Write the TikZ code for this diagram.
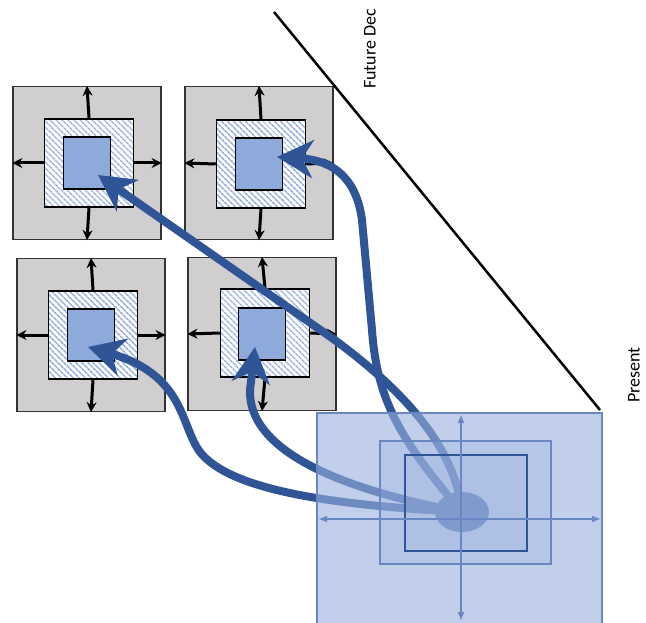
\documentclass[tikz,border=0pt]{standalone}
\usepackage{fontspec}
\setmainfont{Carlito}
\usetikzlibrary{arrows.meta,shapes.geometric,patterns.meta}
\definecolor{boxgray}{RGB}{208,206,206}
\definecolor{hatchblue}{RGB}{150,176,222}
\definecolor{coreblue}{RGB}{142,170,219}
\definecolor{flowblue}{RGB}{47,85,151}
\definecolor{veilblue}{RGB}{152,175,222}
\definecolor{edgeblue}{RGB}{105,135,195}
\begin{document}
\begin{tikzpicture}[x=1pt,y=-1pt,
  outerbox/.style={draw=black!80, line width=1.2pt, fill=boxgray, minimum width=148pt, minimum height=153pt, inner sep=0pt},
  hatchbox/.style={draw=black, line width=1.5pt, preaction={fill=white}, pattern={Lines[angle=-45,distance=4pt,line width=1.6pt]}, pattern color=hatchblue, minimum width=89pt, minimum height=88pt, inner sep=0pt},
  corebox/.style={draw=black, line width=1.5pt, fill=coreblue, minimum width=47pt, minimum height=52pt, inner sep=0pt},
  push/.style={-{Stealth[length=10pt,width=10pt]}, line width=3pt},
  flow/.style={flowblue, line width=8pt, line cap=round, -{Stealth[length=36pt,width=38pt,inset=11pt]}},
  veil/.style={fill=veilblue, draw=edgeblue, line width=1.2pt, inner sep=0pt},
  axis/.style={{Latex[length=9pt,width=7pt]}-{Latex[length=9pt,width=7pt]}, edgeblue, line width=2pt},
  sidetext/.style={rotate=90, inner sep=0pt, font=\fontsize{18}{20}\selectfont}]
\useasboundingbox (0,0) rectangle (646,623);
\clip (0,0) rectangle (646,623);
\fill[white] (0,0) rectangle (646,623);

\node[outerbox] (tlgray) at (87,163) {};
\node[hatchbox] (tlhatch) at (89,163) {};
\node[corebox] (tlcore) at (87,163) {};
\node[outerbox] (trgray) at (259,163) {};
\node[hatchbox] (trhatch) at (261,164) {};
\node[corebox] (trcore) at (259,164) {};
\node[outerbox] (blgray) at (91,335) {};
\node[hatchbox] (blhatch) at (93,335) {};
\node[corebox] (blcore) at (91,335) {};
\node[outerbox] (brgray) at (262,334) {};
\node[hatchbox] (brhatch) at (265,333) {};
\node[corebox] (brcore) at (262,334) {};

\draw[push] (tlhatch.north) -- (tlgray.north);
\draw[push] (tlhatch.south) -- (tlgray.south);
\draw[push] (tlhatch.west) -- (tlgray.west);
\draw[push] (tlhatch.east) -- (tlgray.east);
\draw[push] (trhatch.north) -- (trgray.north);
\draw[push] (trhatch.south) -- (trgray.south);
\draw[push] (trhatch.west) -- (trgray.west);
\draw[push] (trhatch.east) -- (trgray.east);
\draw[push] (blhatch.north) -- (blgray.north);
\draw[push] (blhatch.south) -- (blgray.south);
\draw[push] (blhatch.west) -- (blgray.west);
\draw[push] (blhatch.east) -- (blgray.east);
\draw[push] (brhatch.north) -- (brgray.north);
\draw[push] (brhatch.south) -- (brgray.south);
\draw[push] (brhatch.west) -- (brgray.west);
\draw[push] (brhatch.east) -- (brgray.east);

\coordinate (edgetop) at (274,12);
\coordinate (edgeend) at (600,410);
\draw[line width=2.5pt] (edgetop) -- (edgeend);

% paths out of the present
\node[ellipse, fill=flowblue, minimum width=54pt, minimum height=40pt, inner sep=0pt] (blob) at (462,512) {};
\coordinate (tltip) at (98,175);
\coordinate (trtip) at (277,157);
\coordinate (bltip) at (88,347);
\coordinate (brtip) at (255,347);
\draw[flow] (blob.center) .. controls (455,450) and (410,395) .. (332,338) -- (tltip);
\draw[flow] (blob.center) .. controls (400,440) and (377,400) .. (372,330) -- (362,220) .. controls (356,175) and (330,160) .. (trtip);
\draw[flow] (blob.center) .. controls (370,495) and (248,460) .. (250,390) -- (brtip);
\draw[flow] (blob.center) .. controls (330,505) and (230,490) .. (200,452) .. controls (180,425) and (185,375) .. (bltip);

\node[veil, fill opacity=0.6, minimum width=285pt, minimum height=240pt] (nowbox) at (459.5,533) {};
\node[veil, fill opacity=0.25, minimum width=171pt, minimum height=123pt] (nowmid) at (465.5,502.5) {};
\node[veil, fill opacity=0.25, draw=flowblue, minimum width=122pt, minimum height=96pt] (nowcore) at (466,503) {};
\coordinate (axl) at (318,519);
\coordinate (axr) at (601,519);
\coordinate (axt) at (461,414);
\coordinate (axb) at (461,621);
\draw[axis] (axl) -- (axr);
\draw[axis] (axt) -- (axb);

\node[sidetext] (present) at (634,375) {Present};
\node[sidetext] (future) at (370,49) {Future Dec};
\end{tikzpicture}
\end{document}
